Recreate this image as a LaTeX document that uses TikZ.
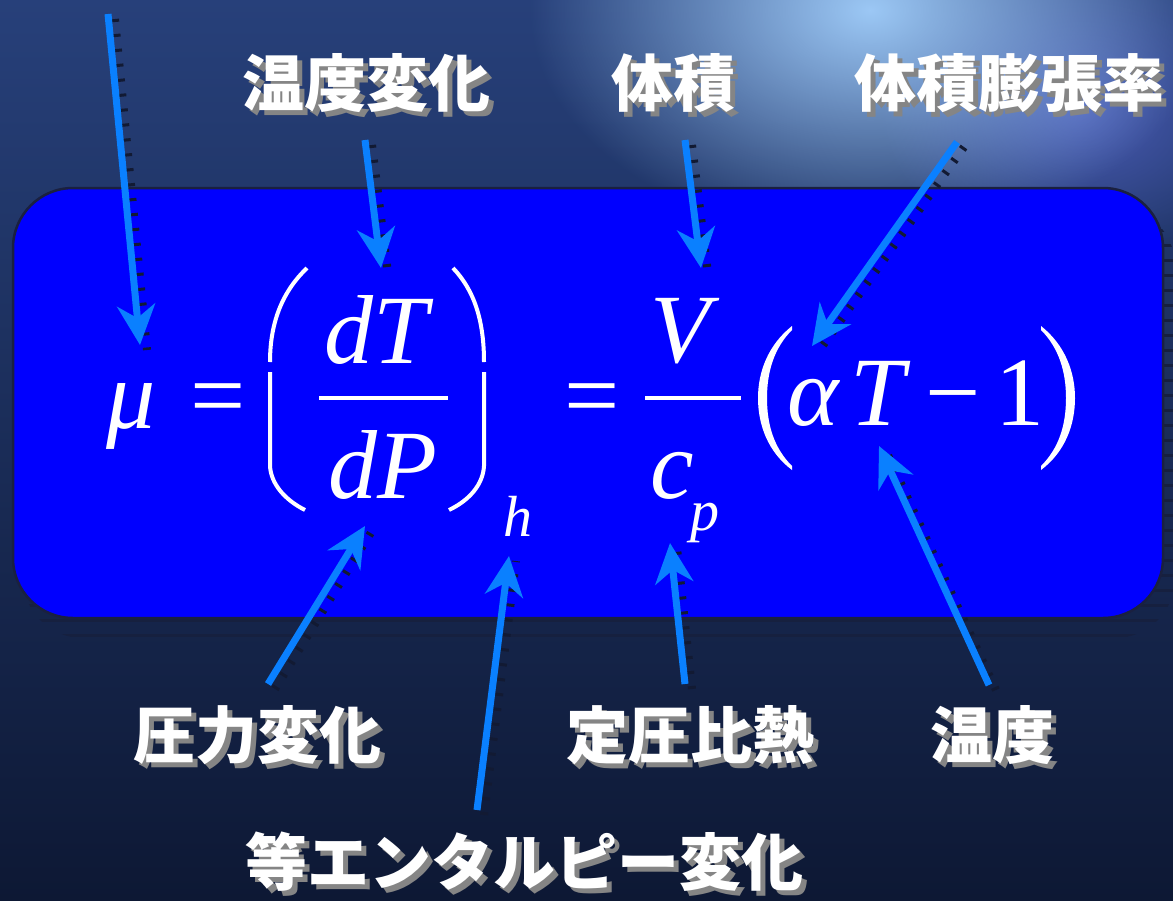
\documentclass[tikz,border=0pt]{standalone}
\usepackage{fontspec}
\newfontfamily\jp{Noto Sans CJK JP Black}
\newfontfamily\tms{Liberation Serif}
\usetikzlibrary{arrows.meta,fadings}
\tikzfading[name=myglow, inner color=transparent!0, outer color=transparent!100]
\definecolor{bgtop}{HTML}{27407A}
\definecolor{bgbot}{HTML}{0D1834}
\definecolor{glow}{HTML}{9CC8F5}
\definecolor{glow2}{HTML}{4A5CB5}
\definecolor{boxblue}{HTML}{0000FF}
\definecolor{boxedge}{HTML}{1A2040}
\definecolor{hatch}{HTML}{16203F}
\definecolor{arrblue}{HTML}{0A80FF}
\definecolor{arrsh}{HTML}{121A33}
\definecolor{shgray}{HTML}{858585}
\newcommand\jlabel[3]{%
  \node[lbl] (#1) at (#2) {\makebox[0pt][l]{\hspace{5pt}\raisebox{-5pt}{\textcolor{shgray}{#3}}}#3};}
\newcommand\jarrow[2]{%
  \draw[arrshadow] ([shift={(7,5)}]#1) -- ([shift={(7,5)}]#2);
  \draw[arrmain] (#1) -- (#2);}
\begin{document}
\begin{tikzpicture}[x=1pt,y=-1pt,
  lbl/.style={font=\jp\fontsize{62}{62}\selectfont, text=white, inner sep=0},
  big/.style={font=\tms\itshape\fontsize{98}{98}\selectfont, text=white, inner sep=0, anchor=base west},
  bigup/.style={font=\tms\fontsize{98}{98}\selectfont, text=white, inner sep=0, anchor=base west},
  small/.style={font=\tms\itshape\fontsize{58}{58}\selectfont, text=white, inner sep=0, anchor=base west},
  arrmain/.style={draw=arrblue, line width=7pt, -{Stealth[length=40pt, width=38pt, inset=13pt]}},
  arrshadow/.style={draw=arrsh, line width=8pt, dash pattern=on 3pt off 12pt},
  paren/.style={draw=white, line width=4pt}
]
\useasboundingbox (0,0) rectangle (1173,900);
% background
\begin{scope}
  \clip (0,0) rectangle (1173,900);
  \fill[top color=bgtop, bottom color=bgbot] (0,0) rectangle (1173,900);
  \fill[glow2, path fading=myglow] (1080,110) ellipse [x radius=200pt, y radius=150pt];
  \fill[glow, path fading=myglow] (870,10) ellipse [x radius=340pt, y radius=230pt];
\end{scope}

% box shadow hatch
\begin{scope}
  \clip[rounded corners=60pt] (23,206) rectangle (1175,638);
  \foreach \k in {0,...,27} \draw[hatch, line width=3pt] (0,635-15*\k) -- (1175,635-15*\k);
\end{scope}
% box
\node[draw=boxedge, fill=boxblue, line width=2.5pt, rounded corners=60pt,
      minimum width=1150pt, minimum height=430pt, inner sep=0] (box) at (588,403) {};

% formula
\node[big] (mu) at (106,428) {μ};
\node[bigup] (eq1) at (190,428) {=};
\node[big] (dT) at (324,363) {dT};
\node[big] (dP) at (328,498) {dP};
\node[small] (h) at (503,536) {h};
\node[bigup] (eq2) at (564,428) {=};
\node[big] (V) at (650,362) {V};
\node[big] (c) at (650,498) {c};
\node[small] (p) at (690,530) {p};
\node[big] (al) at (787,425) {α};
\node[big] (T) at (850,425) {T};
\node[bigup] (minus) at (925,425) {−};
\node[bigup] (one) at (995,425) {1};
% fraction bars
\draw[white, line width=4pt] (319,398) -- (448,398);
\draw[white, line width=4pt] (645,398) -- (741,398);
% big parentheses (extensible)
\draw[paren] (307,268) .. controls (284,290) and (270,320) .. (270,362);
\draw[paren] (270,372) -- (270,466) .. controls (271,484) and (285,500) .. (305,510);
\draw[paren] (453,268) .. controls (474,290) and (484,320) .. (484,362);
\draw[paren] (484,372) -- (484,466) .. controls (483,484) and (470,500) .. (449,510);
% parentheses around alpha T - 1
\fill[white] (792,326) .. controls (768,345) and (758,372) .. (758,398)
  .. controls (758,425) and (768,452) .. (792,470)
  -- (792,466) .. controls (774,448) and (767,425) .. (767,398)
  .. controls (767,372) and (774,348) .. (792,330) -- cycle;
\fill[white] (1041,326) .. controls (1065,345) and (1075,372) .. (1075,398)
  .. controls (1075,425) and (1065,452) .. (1041,470)
  -- (1041,466) .. controls (1059,448) and (1066,425) .. (1066,398)
  .. controls (1066,372) and (1059,348) .. (1041,330) -- cycle;

% labels
\jlabel{l1}{366,86}{温度変化}
\jlabel{l2}{673,86}{体積}
\jlabel{l3}{1009,86}{体積膨張率}
\jlabel{l4}{257,738}{圧力変化}
\jlabel{l5}{690,738}{定圧比熱}
\jlabel{l6}{992,738}{温度}
\jlabel{l7}{524,864}{等エンタルピー変化}

% arrow end points
\coordinate (a1t) at (108,14);  \coordinate (a1h) at (140,345);
\coordinate (a2t) at (365,140); \coordinate (a2h) at (381,268);
\coordinate (a3t) at (685,140); \coordinate (a3h) at (701,268);
\coordinate (a4t) at (957,142); \coordinate (a4h) at (812,346);
\coordinate (a5t) at (268,684); \coordinate (a5h) at (365,526);
\coordinate (a6t) at (477,810); \coordinate (a6h) at (509,556);
\coordinate (a7t) at (685,684); \coordinate (a7h) at (670,543);
\coordinate (a8t) at (989,685); \coordinate (a8h) at (879,446);
\jarrow{a1t}{a1h}
\jarrow{a2t}{a2h}
\jarrow{a3t}{a3h}
\jarrow{a4t}{a4h}
\jarrow{a5t}{a5h}
\jarrow{a6t}{a6h}
\jarrow{a7t}{a7h}
\jarrow{a8t}{a8h}
\end{tikzpicture}
\end{document}
